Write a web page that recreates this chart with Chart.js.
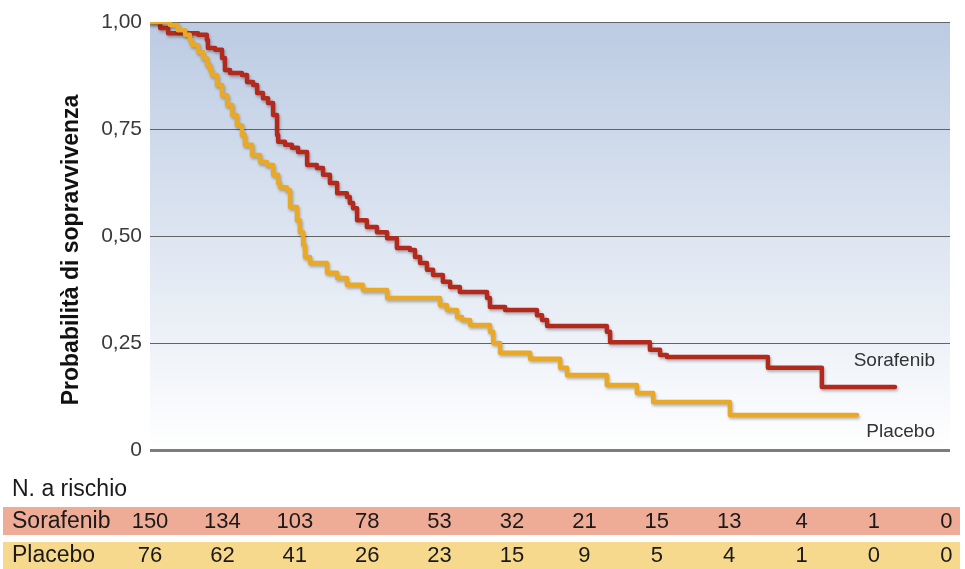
<!DOCTYPE html>
<html>
<head>
<meta charset="utf-8">
<script src="https://cdn.jsdelivr.net/npm/chart.js@4.4.1/dist/chart.umd.min.js"></script>
<style>
  body { margin: 0; background: #fff; }
  canvas { display: block; }
</style>
</head>
<body>
<canvas id="grafico" width="965" height="569"></canvas>
<script>
// dati (tempo in mesi, probabilità di sopravvivenza)
const gruppi = ['Sorafenib', 'Placebo'];
const mesiRischio = [0, 2, 4, 6, 8, 10, 12, 14, 16, 18, 20, 22];
const rischioSorafenib = [150, 134, 103, 78, 53, 32, 21, 15, 13, 4, 1, 0];
const rischioPlacebo = [76, 62, 41, 26, 23, 15, 9, 5, 4, 1, 0, 0];
const yTicks = [0, 0.25, 0.5, 0.75, 1];

const tempiSorafenib = [0, 0.28, 0.50, 1.33, 1.57, 1.60, 1.80, 1.99, 2.07, 2.21, 2.54, 2.68, 2.85, 2.96, 3.12,
  3.26, 3.40, 3.51, 3.54, 3.73, 3.92, 4.09, 4.34, 4.61, 4.78, 4.97, 5.17, 5.44, 5.52, 5.61, 5.72, 5.99,
  6.27, 6.55, 6.82, 7.18, 7.32, 7.46, 7.65, 7.82, 8.09, 8.29, 8.56, 9.31, 9.39, 9.81, 10.69, 10.83,
  10.97, 12.62, 12.71, 13.81, 14.09, 14.28, 17.07, 18.56, 20.58];
const survSorafenib = [1, 0.986, 0.974, 0.970, 0.958, 0.939, 0.935, 0.916, 0.888, 0.881, 0.876, 0.860, 0.853, 0.834, 0.822,
  0.811, 0.783, 0.736, 0.720, 0.713, 0.706, 0.696, 0.666, 0.659, 0.643, 0.624, 0.600, 0.591, 0.577, 0.565, 0.537, 0.521,
  0.509, 0.495, 0.472, 0.467, 0.451, 0.437, 0.421, 0.409, 0.393, 0.381, 0.369, 0.355, 0.334, 0.327, 0.315, 0.304,
  0.290, 0.276, 0.252, 0.234, 0.222, 0.217, 0.192, 0.147, 0.147];

const tempiPlacebo = [0, 0.55, 0.77, 0.97, 1.10, 1.16, 1.33, 1.46, 1.57, 1.66, 1.71, 1.85, 1.99, 2.13, 2.27,
  2.40, 2.54, 2.62, 2.82, 3.04, 3.23, 3.40, 3.54, 3.59, 3.78, 3.87, 4.06, 4.14, 4.23, 4.28, 4.42, 4.89,
  5.17, 5.44, 5.88, 6.55, 8.01, 8.20, 8.48, 8.62, 8.84, 9.39, 9.48, 9.67, 10.50, 11.33, 11.52, 12.62,
  13.45, 13.90, 16.02, 19.53];
const survPlacebo = [1, 0.993, 0.981, 0.970, 0.958, 0.946, 0.930, 0.916, 0.900, 0.888, 0.876, 0.853, 0.829, 0.806, 0.783,
  0.759, 0.736, 0.713, 0.689, 0.673, 0.666, 0.643, 0.624, 0.614, 0.607, 0.568, 0.537, 0.509, 0.479, 0.451, 0.437, 0.414,
  0.402, 0.386, 0.374, 0.355, 0.339, 0.327, 0.311, 0.304, 0.292, 0.276, 0.250, 0.227, 0.213, 0.192, 0.175, 0.152,
  0.133, 0.112, 0.082, 0.082];

const colori = ['#b32a1d', '#e9a825'];
const fontTesto = '"Liberation Sans", Arial, Helvetica, sans-serif';

const punti = (t, s) => t.map((x, i) => ({ x: x, y: s[i] }));

const decorazioni = {
  id: 'decorazioni',
  beforeDraw(chart) {
    const { ctx, chartArea: a } = chart;
    const g = ctx.createLinearGradient(0, a.top, 0, a.bottom);
    g.addColorStop(0, '#bccbe3');
    g.addColorStop(0.5, '#dde5f1');
    g.addColorStop(1, '#ffffff');
    ctx.save();
    ctx.fillStyle = g;
    ctx.fillRect(a.left, a.top, a.right - a.left, a.bottom - a.top);
    ctx.restore();
  },
  beforeDatasetDraw(chart) {
    const ctx = chart.ctx;
    ctx.save();
    ctx.shadowColor = 'rgba(0,0,0,0.28)';
    ctx.shadowBlur = 3;
    ctx.shadowOffsetX = 1;
    ctx.shadowOffsetY = 2;
  },
  afterDatasetDraw(chart) {
    chart.ctx.restore();
  },
  afterDraw(chart) {
    const { ctx, chartArea: a, scales: { x, y } } = chart;
    ctx.save();

    // titolo asse y
    ctx.translate(72, 250);
    ctx.rotate(-Math.PI / 2);
    ctx.font = 'bold 23px ' + fontTesto;
    ctx.fillStyle = '#111';
    ctx.textAlign = 'center';
    ctx.textBaseline = 'middle';
    ctx.fillText('Probabilità di sopravvivenza', 0, 0);
    ctx.setTransform(1, 0, 0, 1, 0, 0);

    // etichette delle curve
    ctx.font = '19px ' + fontTesto;
    ctx.fillStyle = '#333';
    ctx.textAlign = 'right';
    ctx.fillText(gruppi[0], a.right - 15, y.getPixelForValue(survSorafenib[survSorafenib.length - 1]) - 26);
    ctx.fillText(gruppi[1], a.right - 15, y.getPixelForValue(survPlacebo[survPlacebo.length - 1]) + 17);

    // tabella numero a rischio
    ctx.fillStyle = '#eeab95';
    ctx.fillRect(3, 507, 957, 28);
    ctx.fillStyle = '#f6d98d';
    ctx.fillRect(3, 542, 957, 27);

    ctx.font = '23px ' + fontTesto;
    ctx.fillStyle = '#1a1a1a';
    ctx.textAlign = 'left';
    ctx.fillText('N. a rischio', 12, 490);
    ctx.fillText(gruppi[0], 12, 522);
    ctx.fillText(gruppi[1], 12, 556);

    ctx.font = '22px ' + fontTesto;
    ctx.textAlign = 'center';
    mesiRischio.forEach((m, i) => {
      const px = x.getPixelForValue(m);
      ctx.fillText(String(rischioSorafenib[i]), px, 522);
      ctx.fillText(String(rischioPlacebo[i]), px, 556);
    });
    ctx.restore();
  }
};

new Chart(document.getElementById('grafico'), {
  type: 'line',
  data: {
    datasets: [{
      label: gruppi[0],
      data: punti(tempiSorafenib, survSorafenib),
      borderColor: colori[0],
      borderWidth: 4.5,
      stepped: true,
      pointRadius: 0,
      borderJoinStyle: 'round',
      borderCapStyle: 'round',
      order: 1
    }, {
      label: gruppi[1],
      data: punti(tempiPlacebo, survPlacebo),
      borderColor: colori[1],
      borderWidth: 4.5,
      stepped: true,
      pointRadius: 0,
      borderJoinStyle: 'round',
      borderCapStyle: 'round',
      order: 0
    }]
  },
  options: {
    responsive: false,
    animation: false,
    devicePixelRatio: 1,
    layout: { padding: { top: 22, right: 15, bottom: 119, left: 0 } },
    plugins: {
      legend: { display: false },
      tooltip: { enabled: false }
    },
    scales: {
      x: {
        type: 'linear',
        min: 0,
        max: 22.1,
        display: false
      },
      y: {
        min: 0,
        max: 1,
        afterFit: scale => { scale.width = 150; },
        afterBuildTicks: scale => { scale.ticks = yTicks.map(v => ({ value: v })); },
        border: { display: false },
        grid: {
          drawTicks: false,
          color: c => c.tick && c.tick.value === 0 ? '#7d7d7d' : '#646464',
          lineWidth: c => c.tick && c.tick.value === 0 ? 3 : 1
        },
        ticks: {
          padding: 8,
          color: '#3a3a3a',
          font: { size: 21, family: fontTesto },
          callback: v => v === 0 ? '0' : v.toFixed(2).replace('.', ',')
        }
      }
    }
  },
  plugins: [decorazioni]
});
</script>
</body>
</html>
